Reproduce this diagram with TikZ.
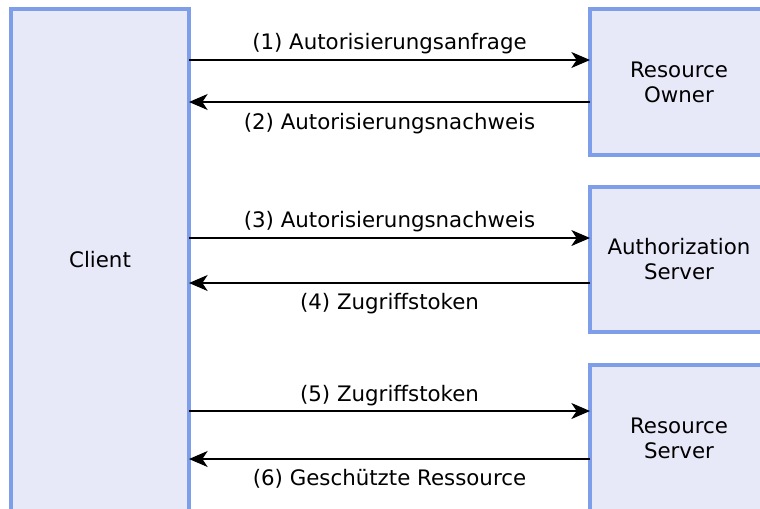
\documentclass[tikz,border=0pt]{standalone}
\usepackage{fontspec}
\setmainfont{DejaVu Sans}
\usetikzlibrary{arrows.meta}
\definecolor{boxfill}{HTML}{E7E9F8}
\definecolor{boxdraw}{HTML}{7E9EE9}
\begin{document}
\begin{tikzpicture}[x=0.75pt,y=-0.75pt,
  box/.style={draw=boxdraw,fill=boxfill,line width=2.4pt,minimum width=178*0.75pt,inner sep=0pt,outer sep=0pt,align=center,font=\fontsize{16pt}{18.8pt}\selectfont},
  arr/.style={-{Stealth[length=14pt,width=12pt,inset=4pt]},line width=0.9pt},
  lbl/.style={font=\fontsize{16pt}{18.8pt}\selectfont,inner sep=0pt}]
\useasboundingbox (0,0) rectangle (760,508);
\clip (0,0) rectangle (760,508);
\node[box,minimum height=502*0.75pt] (client) at (100,260) {Client};
\node[box,minimum height=146*0.75pt] (ro) at (679,82) {Resource\\Owner};
\node[box,minimum height=145*0.75pt] (as) at (679,259.5) {Authorization\\Server};
\node[box,minimum height=146*0.75pt] (rs) at (679,438) {Resource\\Server};
\draw[arr] (client.east |- 0,60) -- (ro.west |- 0,60) node[lbl,midway,yshift=12pt] {(1) Autorisierungsanfrage};
\draw[arr] (ro.west |- 0,102) -- (client.east |- 0,102) node[lbl,midway,yshift=-16pt] {(2) Autorisierungsnachweis};
\draw[arr] (client.east |- 0,238) -- (as.west |- 0,238) node[lbl,midway,yshift=12.5pt] {(3) Autorisierungsnachweis};
\draw[arr] (as.west |- 0,283) -- (client.east |- 0,283) node[lbl,midway,yshift=-15.5pt] {(4) Zugriffstoken};
\draw[arr] (client.east |- 0,411) -- (rs.west |- 0,411) node[lbl,midway,yshift=11.5pt] {(5) Zugriffstoken};
\draw[arr] (rs.west |- 0,459) -- (client.east |- 0,459) node[lbl,midway,yshift=-15pt] {(6) Geschützte Ressource};
\end{tikzpicture}
\end{document}
